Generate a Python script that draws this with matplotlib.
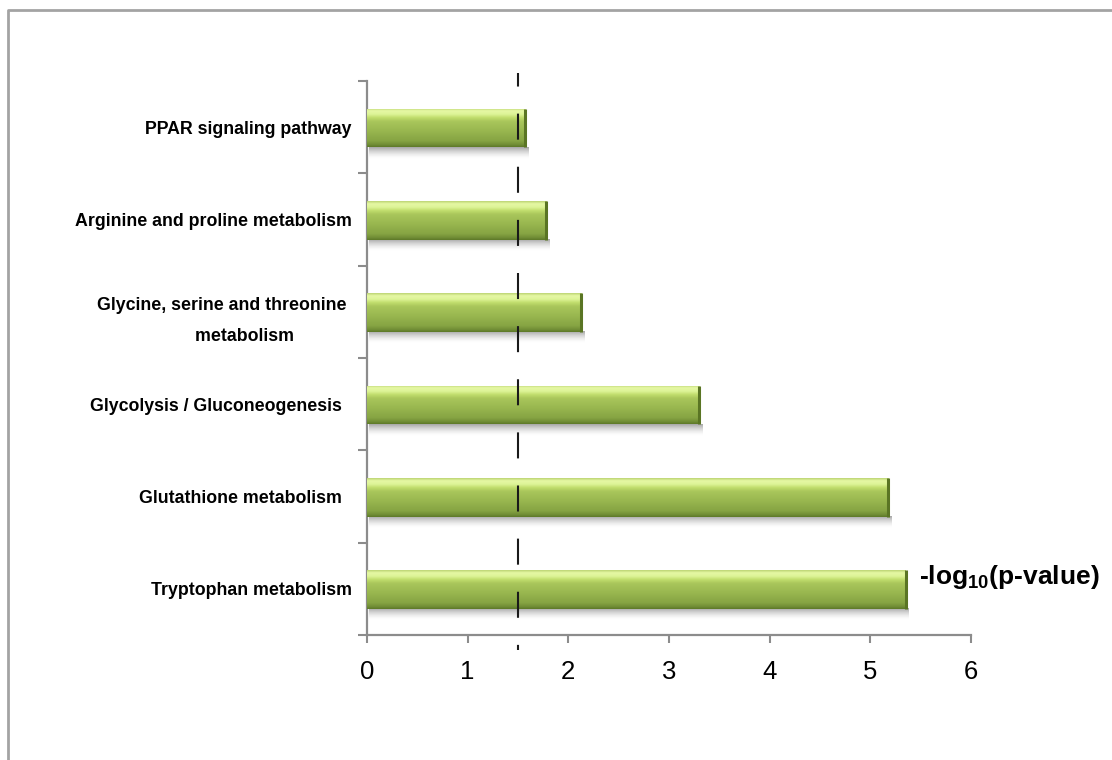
import numpy as np
import matplotlib
matplotlib.use("Agg")
import matplotlib.pyplot as plt
from matplotlib.lines import Line2D
from matplotlib.colors import to_rgb

plt.rcParams['font.family'] = ['Liberation Sans', 'DejaVu Sans']
plt.rcParams['mathtext.fontset'] = 'custom'
plt.rcParams['mathtext.rm'] = 'Liberation Sans'
plt.rcParams['mathtext.bf'] = 'Liberation Sans:bold'

# Enriched pathways, listed bottom to top
pathways = [
    "Tryptophan metabolism",
    "Glutathione metabolism  ",
    "Glycolysis / Gluconeogenesis  ",
    "Glycine, serine and threonine \n        metabolism",
    "Arginine and proline metabolism",
    "PPAR signaling pathway",
]
neg_log_p = [5.35, 5.18, 3.30, 2.13, 1.78, 1.57]
threshold = 1.5
x_ticks = [0, 1, 2, 3, 4, 5, 6]

fig = plt.figure(figsize=(11.12, 7.6), dpi=100)
ax = fig.add_axes([367 / 1112, 1 - 635 / 760, (971 - 367) / 1112, (635 - 81) / 760])

# outer frame (top and left edges)
fig.add_artist(Line2D([8 / 1112, 8 / 1112, 1.0], [0.0, 1 - 10 / 760, 1 - 10 / 760],
                      transform=fig.transFigure, color='#a3a3a3', lw=2.0))

ypos = np.arange(len(pathways))
bars = ax.barh(ypos - 0.01, neg_log_p, height=0.42, color='none', edgecolor='none', zorder=3)

# vertical glossy green gradient (bottom -> top)
stops = [(0.00, '#5c7828'), (0.06, '#718d36'), (0.16, '#86a443'), (0.45, '#9bb951'),
         (0.66, '#a9c65b'), (0.76, '#c2de6e'), (0.84, '#dcf396'), (0.93, '#e6f8a4'),
         (1.00, '#bcd474')]
n = 200
t = np.linspace(0, 1, n)
cols = np.array([to_rgb(c) for _, c in stops])
pos = np.array([p for p, _ in stops])
grad = np.stack([np.interp(t, pos, cols[:, k]) for k in range(3)], axis=-1)[:, None, :]

# soft shadow under each bar
sh_n = 50
sh_t = np.linspace(0, 1, sh_n)
shadow = np.zeros((sh_n, 1, 4))
shadow[..., 0:3] = 0.42
shadow[:, 0, 3] = 0.6 * sh_t ** 1.6

for b in bars:
    x0, y0, w, h = b.get_x(), b.get_y(), b.get_width(), b.get_height()
    ax.imshow(shadow, extent=(x0 + 0.02, x0 + w + 0.03, y0 - 0.12, y0), origin='lower',
              aspect='auto', zorder=2, interpolation='bilinear')
    im = ax.imshow(grad, extent=(x0, x0 + w, y0, y0 + h), origin='lower',
                   aspect='auto', zorder=3, interpolation='bilinear')
    im.set_clip_path(b)
    ax.plot([x0 + w, x0 + w], [y0, y0 + h], color='#5a7524', lw=2.2, zorder=4,
            solid_capstyle='butt')

# significance threshold
ax.plot([threshold, threshold], [5.59, -0.66], color='#1a1a1a', lw=1.5,
        linestyle=(6.0, (12.5, 13.0)), clip_on=False, zorder=6)

ax.set_xlim(0, 6)
ax.set_ylim(-0.5, len(pathways) - 0.5)

for s in ['top', 'right']:
    ax.spines[s].set_visible(False)
for s in ['left', 'bottom']:
    ax.spines[s].set_color('#8c8c8c')
    ax.spines[s].set_linewidth(1.6)

ax.set_yticks(np.arange(-0.5, len(pathways), 1.0))
ax.set_yticklabels([])
ax.set_yticks(ypos, minor=True)
ax.set_yticklabels(pathways, minor=True, fontsize=12.8, fontweight='bold',
                   multialignment='center', linespacing=2.1)
ax.tick_params(axis='y', which='major', direction='out', length=6.5, width=1.5,
               color='#8c8c8c')
ax.tick_params(axis='y', which='minor', length=0, pad=11)

ax.set_xticks(x_ticks)
ax.set_xticklabels([str(v) for v in x_ticks], fontsize=18.5)
ax.tick_params(axis='x', direction='out', length=6, width=1.5, color='#8c8c8c', pad=12)

fig.text(919 / 1112, 1 - 577 / 760, r'-log$_{\mathbf{10}}$(p-value)', fontsize=19,
         fontweight='bold', ha='left', va='center')

fig.savefig('out.png', dpi=100, facecolor='white')
